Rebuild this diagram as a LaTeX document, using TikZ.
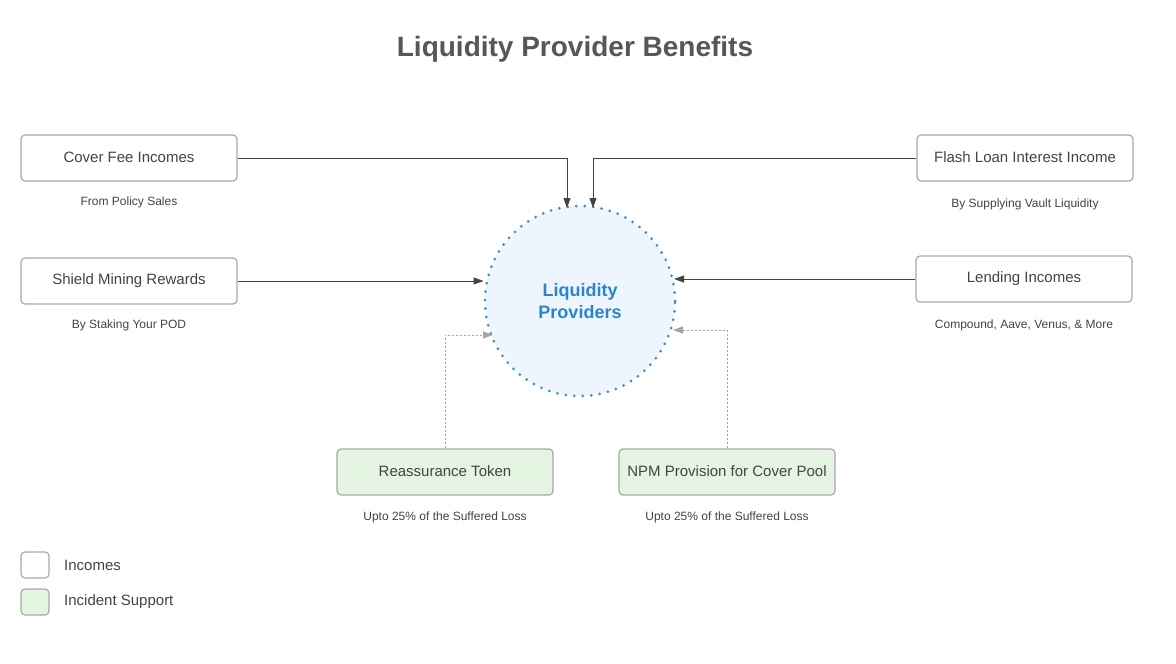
\documentclass[tikz,border=0pt]{standalone}
\usepackage{fontspec}
\setmainfont{Liberation Sans}
\usetikzlibrary{arrows.meta}
\definecolor{txt}{HTML}{444444}
\definecolor{boxline}{HTML}{A8A8A8}
\definecolor{greenfill}{HTML}{E4F5E1}
\definecolor{circfill}{HTML}{EEF5FC}
\definecolor{circline}{HTML}{3A8FC8}
\definecolor{circtxt}{HTML}{2A86C8}
\begin{document}
\begin{tikzpicture}[x=1pt,y=-1pt,
  incbox/.style={draw=boxline,line width=1.2pt,rounded corners=4pt,fill=white,minimum width=216pt,minimum height=46pt,inner sep=0pt,text=txt,font=\fontsize{15}{17}\selectfont},
  supbox/.style={incbox,fill=greenfill},
  sublabel/.style={text=txt,font=\fontsize{12}{14}\selectfont},
  arr/.style={draw=txt,line width=1pt,-{Triangle[length=10pt,width=7pt]}},
  darr/.style={draw=gray!70,line width=1pt,dash pattern=on 2pt off 2pt,-{Triangle[length=10pt,width=7pt]}},
  legbox/.style={draw=boxline,line width=1.2pt,rounded corners=4pt,minimum width=28pt,minimum height=26pt,inner sep=0pt},
  legtext/.style={text=txt,font=\fontsize{15}{17}\selectfont,anchor=west,inner sep=0pt}
]
\useasboundingbox (0,0) rectangle (1176,664);
\fill[white] (0,0) rectangle (1176,664);
\node[text=txt!90!white,font=\bfseries\fontsize{28}{32}\selectfont] (title) at (575,49) {Liquidity Provider Benefits};

\node[circle,minimum size=190pt,inner sep=0pt,fill=circfill,draw=circline,line width=3pt,dash pattern=on 0pt off 8.5pt,line cap=round,text=circtxt,align=center,font=\bfseries\fontsize{18}{22}\selectfont] (lp) at (580,301) {Liquidity\\Providers};

\node[incbox] (cover) at (129,158) {\raisebox{2pt}{Cover Fee Incomes}};
\node[sublabel] (coverl) at (129,202) {From Policy Sales};
\node[incbox] (shield) at (129,281) {\raisebox{2pt}{Shield Mining Rewards}};
\node[sublabel] (shieldl) at (129,325) {By Staking Your POD};
\node[incbox] (flash) at (1025,158) {\raisebox{2pt}{Flash Loan Interest Income}};
\node[sublabel] (flashl) at (1025,204) {By Supplying Vault Liquidity};
\node[incbox] (lend) at (1024,279) {\raisebox{2pt}{Lending Incomes}};
\node[sublabel] (lendl) at (1024,325) {Compound, Aave, Venus, \& More};

\node[supbox] (reas) at (445,472) {\raisebox{2pt}{Reassurance Token}};
\node[sublabel] (reasl) at (445,517) {Upto 25\% of the Suffered Loss};
\node[supbox] (npm) at (727,472) {\raisebox{2pt}{NPM Provision for Cover Pool}};
\node[sublabel] (npml) at (727,517) {Upto 25\% of the Suffered Loss};

\coordinate (c1) at (567,208);
\coordinate (c2) at (593,208);
\draw[arr] (cover.east) -| (c1);
\draw[arr] (flash.west) -| (c2);
\draw[arr] (shield.east) -- (lp.west |- shield.east);
\draw[arr] (lend.west) -- (674,279);
\coordinate (d1) at (493,335);
\coordinate (d2) at (673,330);
\draw[darr] (reas.north) |- (d1);
\draw[darr] (npm.north) |- (d2);

\node[legbox] (leg1) at (35,565) {};
\node[legtext] (leg1t) at (64,565) {Incomes};
\node[legbox,fill=greenfill] (leg2) at (35,602) {};
\node[legtext] (leg2t) at (64,602) {Incident Support};
\end{tikzpicture}
\end{document}
